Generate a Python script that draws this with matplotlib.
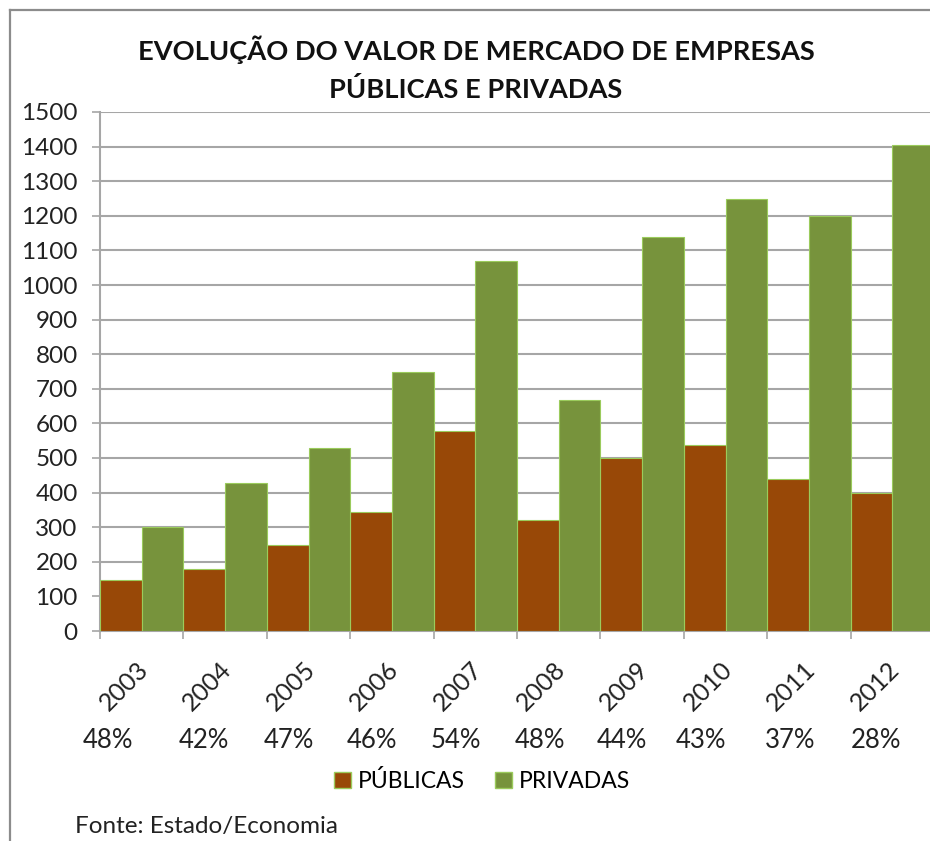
import matplotlib
matplotlib.use("Agg")
import matplotlib.pyplot as plt
import matplotlib.transforms as mtransforms
from matplotlib.patches import Patch
from matplotlib.lines import Line2D
import numpy as np

plt.rcParams['font.family'] = ['Lato', 'DejaVu Sans']

# data
anos = ["2003", "2004", "2005", "2006", "2007", "2008", "2009", "2010", "2011", "2012"]
publicas = [147, 178, 250, 345, 578, 320, 500, 538, 438, 400]
privadas = [300, 428, 528, 750, 1068, 668, 1138, 1250, 1200, 1405]
percentuais = ["48%", "42%", "47%", "46%", "54%", "48%", "44%", "43%", "37%", "28%"]

# horizontal shift of each percent label relative to its category centre
pct_offsets = [-0.40, -0.25, -0.24, -0.24, -0.23, -0.22, -0.24, -0.30, -0.22, -0.20]

cor_pub = "#984807"
cor_priv = "#77933C"
cor_borda = "#9BCB5C"
cinza = "#A6A6A6"

W, H = 930, 841
fig = plt.figure(figsize=(W / 100, H / 100), dpi=100)
ax = fig.add_axes([100 / W, (H - 631) / H, 834 / W, 519 / H])

x = np.arange(len(anos))
ax.bar(x - 0.25, publicas, width=0.5, color=cor_pub, edgecolor=cor_borda, linewidth=0.8, zorder=3)
ax.bar(x + 0.25, privadas, width=0.5, color=cor_priv, edgecolor=cor_borda, linewidth=0.8, zorder=3)

ax.set_xlim(-0.5, len(anos) - 0.5)
ax.set_ylim(0, 1500)
ax.set_yticks(np.arange(0, 1501, 100))
ax.yaxis.grid(True, color=cinza, linewidth=1.5, zorder=0)
ax.set_axisbelow(True)

for s in ["top", "right"]:
    ax.spines[s].set_visible(False)
for s in ["left", "bottom"]:
    ax.spines[s].set_color(cinza)
    ax.spines[s].set_linewidth(1.5)

ax.tick_params(axis="y", length=6, width=1.2, color=cinza, labelsize=17.5, pad=10, labelcolor="#222222")

# category boundary ticks
ax.set_xticks(np.arange(-0.5, len(anos), 1.0), minor=True)
ax.tick_params(axis="x", which="minor", length=6, width=1.2, color=cinza)
ax.set_xticks(x)
ax.set_xticklabels(anos, rotation=45, ha="right", va="top", fontsize=18, color="#222222")
ax.tick_params(axis="x", which="major", length=0, pad=19)
shift = mtransforms.ScaledTranslation(11 / 100, 0, fig.dpi_scale_trans)
for lbl in ax.get_xticklabels():
    lbl.set_transform(lbl.get_transform() + shift)

# percent row under the years
trans = mtransforms.blended_transform_factory(ax.transData, fig.transFigure)
for i, (p, off) in enumerate(zip(percentuais, pct_offsets)):
    ax.text(i + off, 1 - 740 / H, p, transform=trans, ha="center", va="center",
            fontsize=18.5, color="#222222", clip_on=False)

# title
fig.text(476 / W, 1 - 50 / H, "EVOLUÇÃO DO VALOR DE MERCADO DE EMPRESAS", ha="center", va="center",
         fontsize=19.6, fontweight="bold", color="#111111")
fig.text(476 / W, 1 - 89 / H, "PÚBLICAS E PRIVADAS", ha="center", va="center",
         fontsize=19.6, fontweight="bold", color="#111111")

# legend
handles = [Patch(facecolor=cor_pub, edgecolor=cor_borda, label="PÚBLICAS"),
           Patch(facecolor=cor_priv, edgecolor=cor_borda, label="PRIVADAS")]
fig.legend(handles=handles, loc="center", bbox_to_anchor=(482 / W, 1 - 781 / H), ncol=2,
           frameon=False, fontsize=16.5, handlelength=0.75, handleheight=0.75,
           handletextpad=0.3, columnspacing=1.3)

fig.text(75 / W, 1 - 826 / H, "Fonte: Estado/Economia", ha="left", va="center", fontsize=17.5, color="#222222")

# outer frame (left and top edges visible)
fig.add_artist(Line2D([10 / W, 10 / W], [0, 1 - 10 / H], transform=fig.transFigure, color="#8C8C8C", linewidth=1.6))
fig.add_artist(Line2D([10 / W, 1], [1 - 10 / H, 1 - 10 / H], transform=fig.transFigure, color="#8C8C8C", linewidth=1.6))

fig.savefig("out.png", dpi=100)
